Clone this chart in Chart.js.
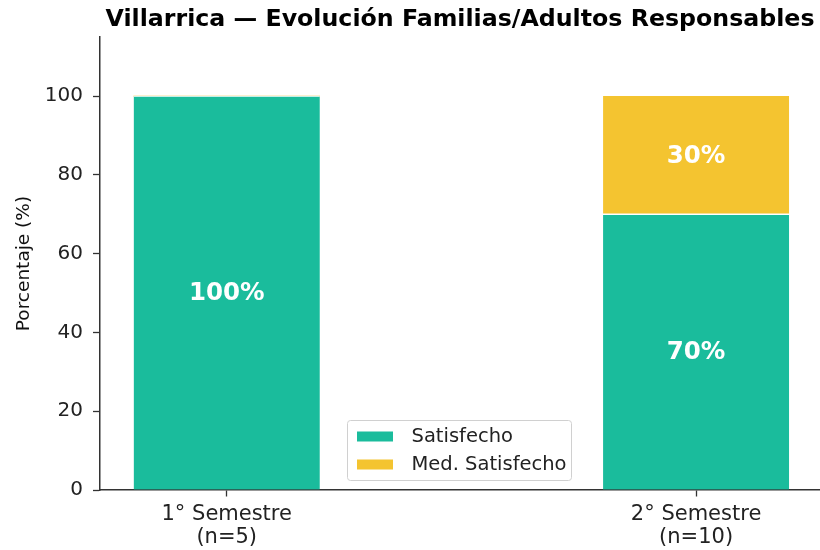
<!DOCTYPE html>
<html>
<head>
<meta charset="utf-8">
<script src="https://cdn.jsdelivr.net/npm/chart.js@4/dist/chart.umd.min.js"></script>
<style>
  html, body { margin: 0; padding: 0; background: #ffffff; }
  #wrap { width: 820px; height: 550px; }
</style>
</head>
<body>
<div id="wrap"><canvas id="c" width="820" height="550"></canvas></div>
<script>
// ---- data ----
const titleText = 'Villarrica — Evolución Familias/Adultos Responsables';
const categories = [['1° Semestre', '(n=5)'], ['2° Semestre', '(n=10)']];
const categoryPositions = [0, 1];
const satisfecho = [100, 70];
const medSatisfecho = [0, 30];
const seriesNames = ['Satisfecho', 'Med. Satisfecho'];
const seriesColors = ['#1ABC9C', '#F4C430'];
const yTicks = [0, 20, 40, 60, 80, 100];
const yLabel = 'Porcentaje (%)';

const FONT = "'DejaVu Sans', sans-serif";

function toPoints(vals) {
  return vals.map((v, i) => ({ x: categoryPositions[i], y: v }));
}

const labelPlugin = {
  id: 'segLabels',
  afterDatasetsDraw(chart) {
    const ctx = chart.ctx;
    ctx.save();
    ctx.fillStyle = '#ffffff';
    ctx.font = "bold 24.5px " + FONT;
    ctx.textAlign = 'center';
    ctx.textBaseline = 'middle';
    chart.data.datasets.forEach((ds, di) => {
      const meta = chart.getDatasetMeta(di);
      meta.data.forEach((bar, i) => {
        const v = ds.data[i].y;
        if (!v) return;
        const p = bar.getProps(['x', 'y', 'base'], true);
        ctx.fillText(v + '%', p.x, (p.y + p.base) / 2 + 1);
      });
    });
    ctx.restore();
  }
};

const legendPlugin = {
  id: 'customLegend',
  afterDraw(chart) {
    const ctx = chart.ctx;
    const a = chart.chartArea;
    const w = 224, h = 60;
    const cx = (a.left + a.right) / 2;
    const x0 = Math.round(cx - w / 2) - 0.5, y0 = Math.round(a.bottom - 10 - h) + 0.5;
    ctx.save();
    ctx.fillStyle = 'rgba(255,255,255,0.8)';
    ctx.strokeStyle = '#d0d0d0';
    ctx.lineWidth = 1;
    ctx.beginPath();
    ctx.roundRect(x0, y0, w, h, 3);
    ctx.fill();
    ctx.stroke();
    ctx.font = "19.5px " + FONT;
    ctx.textBaseline = 'middle';
    ctx.textAlign = 'left';
    seriesNames.forEach((name, i) => {
      const yy = y0 + 16 + i * 28;
      ctx.fillStyle = seriesColors[i];
      ctx.fillRect(x0 + 9.5, yy - 5, 36, 10);
      ctx.fillStyle = '#222222';
      ctx.fillText(name, x0 + 64, yy);
    });
    ctx.restore();
  }
};

new Chart(document.getElementById('c'), {
  type: 'bar',
  data: {
    datasets: [
      { label: seriesNames[0], data: toPoints(satisfecho), backgroundColor: seriesColors[0],
        borderColor: '#ffffff', borderWidth: { top: 1, bottom: 0, left: 0, right: 0 }, borderSkipped: false,
        barThickness: 186 },
      { label: seriesNames[1], data: toPoints(medSatisfecho), backgroundColor: seriesColors[1],
        borderColor: '#ffffff', borderWidth: { top: 0, bottom: 1, left: 0, right: 0 }, borderSkipped: false,
        barThickness: 186 }
    ]
  },
  options: {
    responsive: false,
    animation: false,
    devicePixelRatio: 1,
    layout: { padding: { left: 0, right: 0, top: 0, bottom: 0 } },
    plugins: {
      legend: { display: false },
      tooltip: { enabled: false },
      title: {
        display: true, text: titleText, align: 'center', fullSize: false, color: '#000000',
        font: { family: FONT, size: 23.7, weight: 'bold', lineHeight: 1.2 },
        padding: { top: 6, bottom: 2.6 }
      }
    },
    scales: {
      x: {
        type: 'linear', stacked: true, min: -0.27, max: 1.264, offset: false,
        afterBuildTicks(scale) { scale.ticks = categoryPositions.map(v => ({ value: v })); },
        afterFit(scale) { scale.height = 60; },
        ticks: {
          callback: (v) => { const i = categoryPositions.indexOf(v); return i >= 0 ? categories[i] : ''; },
          color: '#222222', font: { family: FONT, size: 21, lineHeight: 1.1 }, padding: 6.5,
          maxRotation: 0, autoSkip: false
        },
        grid: { display: true, offset: false, drawOnChartArea: false, drawTicks: true, tickLength: 6.5, color: '#333333', tickWidth: 1.3 },
        border: { display: true, color: '#333333', width: 1.5 }
      },
      y: {
        stacked: true, min: 0, max: 115,
        afterBuildTicks(scale) { scale.ticks = yTicks.map(v => ({ value: v })); },
        afterFit(scale) { scale.width = 100; },
        ticks: { color: '#222222', font: { family: FONT, size: 20 }, padding: 10 },
        grid: { display: true, drawOnChartArea: false, drawTicks: true, tickLength: 7, color: '#333333', tickWidth: 1.3 },
        border: { display: true, color: '#333333', width: 1.5 },
        title: { display: true, text: yLabel, color: '#111111', font: { family: FONT, size: 18.5, lineHeight: 1.2 }, padding: { top: 13, bottom: 0 } }
      }
    }
  },
  plugins: [labelPlugin, legendPlugin]
});
</script>
</body>
</html>
